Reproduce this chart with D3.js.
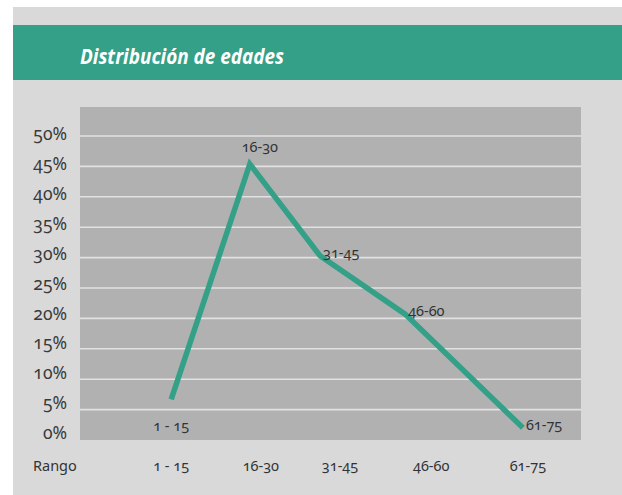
<!DOCTYPE html>
<html>
<head>
<meta charset="utf-8">
<script src="https://cdn.jsdelivr.net/npm/d3@7"></script>
<style>
  body { margin: 0; background: #fff; }
  svg text { font-family: "Noto Sans", "Open Sans", sans-serif; font-variant-numeric: oldstyle-nums; }
</style>
</head>
<body>
<div id="chart"></div>
<script>
// Distribución de edades

var ranges = ["1 - 15", "16-30", "31-45", "46-60", "61-75"]
var values = [6.7, 45.4, 30.3, 20.7, 2.0]
// horizontal place of each point and of each column label (0-100 along the plot)
var pointPos = [18.2, 33.9, 47.9, 64.9, 88.4]
var columnPos = [18.2, 36.1, 51.9, 70.1, 89.4]
var labelSide = ["below", "above", "right", "right", "right"]
var yTicks = [0, 5, 10, 15, 20, 25, 30, 35, 40, 45, 50]

var width = 622, height = 495
var plot = {left: 80, right: 581, top: 107, bottom: 440}

var x = d3.scaleLinear()
    .domain([0, 100])
    .range([plot.left, plot.right])

var y = d3.scaleLinear()
    .domain([0, 50])
    .range([plot.bottom, 136])

// tick labels sit a little above their grid lines
var yLabel = d3.scaleLinear()
    .domain([0, 50])
    .range([433, 134])

const svg = d3.select('#chart')
  .append('svg')
    .attr('width', width)
    .attr('height', height)

svg.append('rect')
    .attr('x', 13).attr('y', 7)
    .attr('width', width - 13).attr('height', height - 7)
    .attr('fill', '#d9d9d9')

svg.append('rect')
    .attr('x', 13).attr('y', 25)
    .attr('width', width - 13).attr('height', 55)
    .attr('fill', '#33a087')

svg.append('text')
    .attr('x', 80).attr('y', 64)
    .attr('fill', '#fff')
    .attr('font-size', 20.5)
    .attr('font-weight', 'bold')
    .attr('font-style', 'italic')
    .attr('textLength', 204)
    .attr('lengthAdjust', 'spacingAndGlyphs')
    .style('font-family', '"Open Sans", sans-serif')
    .text('Distribución de edades')

svg.append('rect')
    .attr('x', plot.left).attr('y', plot.top)
    .attr('width', plot.right - plot.left).attr('height', plot.bottom - plot.top)
    .attr('fill', '#b1b1b1')

svg.append('g')
  .selectAll('line')
  .data(yTicks.filter(d => d > 0))
  .join('line')
    .attr('x1', plot.left).attr('x2', plot.right)
    .attr('y1', d => y(d)).attr('y2', d => y(d))
    .attr('stroke', '#e2e2e2')
    .attr('stroke-width', 1.6)

svg.append('g')
  .selectAll('text')
  .data(yTicks)
  .join('text')
    .attr('x', 67)
    .attr('y', d => yLabel(d))
    .attr('dy', '0.35em')
    .attr('text-anchor', 'end')
    .attr('font-size', 17.5)
    .attr('fill', '#3a3a3a')
    .text(d => d + '%')

var line = d3.line()
    .x((d, i) => x(pointPos[i]))
    .y(d => y(d))

svg.append('path')
    .datum(values)
    .attr('d', line)
    .attr('fill', 'none')
    .attr('stroke', '#33a087')
    .attr('stroke-width', 5.5)
    .attr('stroke-linejoin', 'miter')

svg.append('g')
  .selectAll('text')
  .data(values)
  .join('text')
    .attr('x', (d, i) => labelSide[i] == 'right' ? x(pointPos[i]) + 3 : x(pointPos[i]) + (labelSide[i] == 'above' ? 10 : 0))
    .attr('y', (d, i) => labelSide[i] == 'below' ? y(d) + 27 : labelSide[i] == 'above' ? y(d) - 17 : y(d) - 3)
    .attr('dy', '0.35em')
    .attr('text-anchor', (d, i) => labelSide[i] == 'right' ? 'start' : 'middle')
    .attr('font-size', 14.5)
    .attr('fill', '#333')
    .text((d, i) => ranges[i])

svg.append('text')
    .attr('x', 33).attr('y', 466)
    .attr('dy', '0.35em')
    .attr('font-size', 14.5)
    .attr('fill', '#333')
    .text('Rango')

svg.append('g')
  .selectAll('text')
  .data(ranges)
  .join('text')
    .attr('x', (d, i) => x(columnPos[i]))
    .attr('y', 466)
    .attr('dy', '0.35em')
    .attr('text-anchor', 'middle')
    .attr('font-size', 14.5)
    .attr('fill', '#333')
    .text(d => d)
</script>
</body>
</html>
